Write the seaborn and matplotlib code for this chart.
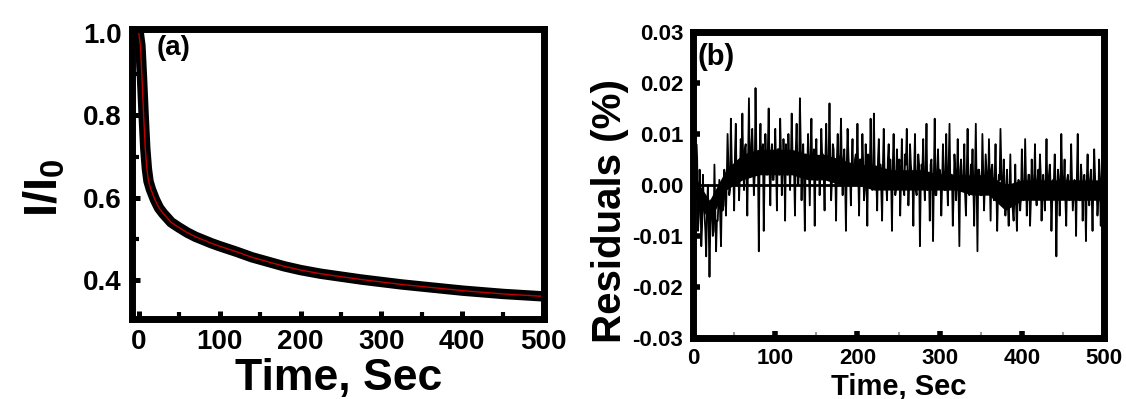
import matplotlib
matplotlib.use("Agg")
import matplotlib.pyplot as plt
import matplotlib.ticker as mticker
import numpy as np
import pandas as pd
import seaborn as sns

# (a) normalised intensity decay
decay_time = [0, 2, 4, 6, 8, 10, 12, 15, 20, 25, 30, 40, 50, 60, 70, 80, 90, 100,
              120, 140, 160, 180, 200, 225, 250, 275, 300, 325, 350, 375, 400,
              425, 450, 475, 500]
decay_ratio = [1.0, 0.97, 0.89, 0.80, 0.72, 0.67, 0.64, 0.62, 0.595, 0.575, 0.562,
               0.540, 0.527, 0.515, 0.505, 0.497, 0.489, 0.482, 0.469, 0.455, 0.444,
               0.433, 0.424, 0.415, 0.408, 0.401, 0.395, 0.389, 0.384, 0.379, 0.374,
               0.370, 0.366, 0.363, 0.360]

# (b) residuals in units of 0.001: spikes at even seconds 0..500
resid_even = [
    17, -4, 8, -9, 3, -12, 2, -6, -14, 0,
    -18, -3, -10, 4, -13, -7, 1, -12, -5, 3,
    -6, 10, -2, 13, 1, -5, 12, 4, -3, 9,
    14, -1, 8, -6, 17, 3, 11, -2, 19, 5,
    -13, 12, 6, -9, 10, 2, 15, -4, 8, 1,
    11, -5, 7, 13, -2, 9, -7, 4, 10, -1,
    14, 3, -6, 12, 0, 17, -3, 8, -9, 5,
    10, -4, 13, 2, -8, 9, 4, -2, 11, 6,
    -5, 12, 3, 16, -3, 8, 1, -7, 10, 4,
    13, -2, 7, -9, 11, 2, -4, 9, 0, 6,
    12, -6, 5, 10, -3, 8, -8, 3, 13, -1,
    14, 2, -5, 9, 4, -7, 11, 1, -3, 8,
    5, -9, 10, -2, 7, 3, -6, 9, -1, 6,
    11, -4, 8, 2, -8, 10, -2, 6, -12, 4,
    9, -3, 12, 1, -7, 5, -11, 13, -2, 7,
    3, -6, 8, -1, 10, -4, 12, 2, -8, 6,
    -3, 9, -12, 5, 1, 8, -6, 11, -2, 4,
    7, -8, 12, -13, 3, -2, 10, -5, 6, 0,
    9, -7, 4, -3, 8, -9, 2, 11, -4, 5,
    -6, 3, -8, 6, -2, -7, 4, -9, 1, -5,
    7, -3, 9, -6, 2, -8, 5, -1, 8, -4,
    3, 6, -7, 2, -5, 9, -2, 4, -9, 1,
    6, -14, 3, -6, 10, -1, 5, -8, 2, -3,
    8, -5, 1, -10, 10, -3, 4, -7, 2, -11,
    6, -4, 3, -9, 7, -2, -6, 5, -8, 8,
    -10,
]
# values at odd seconds 1..499
resid_odd = [
    2, -3, 5, -6, -2, -8, -4, -9, -5, -7,
    -8, -4, -9, -5, -7, -3, -6, -2, -4, 0,
    1, 4, -1, 5, 2, 6, 0, 4, 2, 5,
    4, 7, 2, 6, 3, 8, 5, 2, 7, 4,
    6, 3, 8, 2, 5, 7, 3, 6, 1, 5,
    4, 7, 2, 6, 3, 5, 8, 2, 5, 4,
    6, 2, 7, 4, 3, 8, 5, 1, 6, 4,
    3, 6, 2, 7, 4, 1, 5, 3, 6, 2,
    5, 2, 6, 4, 1, 7, 3, 5, 2, 6,
    3, 5, 1, 4, 6, 2, 4, 0, 5, 3,
    2, 5, 1, 4, -1, 3, 6, 2, 4, 0,
    3, 1, 5, 2, -1, 4, 2, 0, 5, 2,
    1, 4, 2, -1, 3, 5, 1, 3, -2, 4,
    2, 0, 4, 1, 3, -1, 2, 4, 0, 3,
    1, 3, -1, 2, 4, 0, 2, -2, 3, 1,
    2, 0, 3, -1, 1, 4, 0, 2, -2, 3,
    1, -1, 3, 0, 2, -2, 3, 1, -1, 2,
    0, 2, -1, 3, 1, -2, 2, 0, 3, -1,
    1, 3, -1, 2, 0, -2, 1, 3, -1, 0,
    -2, -4, -1, -3, -5, -2, -4, -1, -3, -2,
    0, -2, 1, -1, 2, -3, 0, 1, -2, 1,
    -1, 2, 0, -2, 1, -1, 2, 0, -3, 1,
    0, -2, 1, -1, 2, 0, -3, 1, -1, 0,
    1, -2, 0, 2, -1, -3, 1, 0, -2, 1,
    -1, 1, -2, 0, 2, -1, -3, 1, 0, -2,
]
# solid core of the residual band (units of 0.001), every 20 s
core_time = [0, 20, 40, 60, 80, 100, 120, 140, 160, 180, 200, 220, 240,
             260, 280, 300, 320, 340, 360, 380, 400, 420, 440, 460, 480, 500]
core_lo = [-2, -7, -1, 1, 2, 2, 2, 1, 1, 0, 0, -1, -1,
           -1, -1, -1, -1, -2, -2, -5, -3, -3, -3, -3, -3, -3]
core_hi = [2, -3, 3, 6, 7, 7, 7, 6, 6, 5, 4, 4, 3,
           3, 3, 2, 2, 2, 2, 0, 1, 1, 1, 1, 1, 1]

decay_df = pd.DataFrame({"time": decay_time, "ratio": decay_ratio})
resid_df = pd.concat([
    pd.DataFrame({"time": np.arange(0, 501, 2), "resid": resid_even}),
    pd.DataFrame({"time": np.arange(1, 500, 2), "resid": resid_odd}),
]).sort_values("time")
resid_df["resid"] = resid_df["resid"] / 1000.0
core_df = pd.DataFrame({"time": core_time,
                        "lo": np.array(core_lo) / 1000.0,
                        "hi": np.array(core_hi) / 1000.0})

sns.set_theme(style="ticks")
plt.rcParams["font.family"] = ["Liberation Sans", "DejaVu Sans"]
plt.rcParams["font.weight"] = "bold"
plt.rcParams["axes.labelweight"] = "bold"
plt.rcParams["axes.unicode_minus"] = False
plt.rcParams["mathtext.fontset"] = "custom"
plt.rcParams["mathtext.rm"] = "Liberation Sans:bold"
plt.rcParams["mathtext.it"] = "Liberation Sans:bold"
plt.rcParams["mathtext.bf"] = "Liberation Sans:bold"
for key in ["text.color", "axes.labelcolor", "xtick.color", "ytick.color"]:
    plt.rcParams[key] = "black"

fig = plt.figure(figsize=(11.26, 3.99), dpi=100)
ax1 = fig.add_axes([0.1168, 0.2005, 0.3663, 0.7268])
ax2 = fig.add_axes([0.6155, 0.1529, 0.365, 0.767])

# panel (a): thick black data band with the red fit on top
sns.lineplot(data=decay_df, x="time", y="ratio", ax=ax1, color="black", lw=7.5)
sns.lineplot(data=decay_df, x="time", y="ratio", ax=ax1, color="#c00000", lw=1.0)
ax1.set_xlim(-9, 501)
ax1.set_ylim(0.305, 1.01)
ax1.xaxis.set_major_locator(mticker.MultipleLocator(100))
ax1.xaxis.set_minor_locator(mticker.MultipleLocator(50))
ax1.yaxis.set_major_locator(mticker.MultipleLocator(0.2))
ax1.yaxis.set_minor_locator(mticker.MultipleLocator(0.1))
ax1.yaxis.set_major_formatter(mticker.FormatStrFormatter("%.1f"))
ax1.tick_params(which="major", direction="in", length=6, width=3.6, pad=7, labelsize=20)
ax1.tick_params(which="minor", direction="in", length=5, width=3.0)
ax1.set_xlabel("Time, Sec", fontsize=32, fontweight="bold")
ax1.set_ylabel("I/I$_0$", fontsize=34, fontweight="bold")
ax1.xaxis.set_label_coords(0.502, -0.135)
ax1.yaxis.set_label_coords(-0.156, 0.452)
ax1.text(0.062, 0.979, "(a)", transform=ax1.transAxes, va="top", ha="left",
         fontsize=20, fontweight="bold")

# panel (b): residuals, dense core band, zero line
ax2.fill_between(core_df["time"], core_df["lo"], core_df["hi"], color="black", lw=0)
ax2.axhline(0, color="black", lw=2.0, zorder=1)
sns.lineplot(data=resid_df, x="time", y="resid", ax=ax2, color="black", lw=1.3)
ax2.set_xlim(0, 500)
ax2.set_ylim(-0.03, 0.03)
ax2.xaxis.set_major_locator(mticker.MultipleLocator(100))
ax2.xaxis.set_minor_locator(mticker.MultipleLocator(50))
ax2.yaxis.set_major_locator(mticker.MultipleLocator(0.01))
ax2.yaxis.set_major_formatter(mticker.FormatStrFormatter("%.2f"))
ax2.tick_params(which="major", direction="in", length=5, width=4, pad=7, labelsize=16)
ax2.tick_params(which="minor", direction="in", length=4, width=1.5, color="#999999")
ax2.set_xlabel("Time, Sec", fontsize=21, fontweight="bold")
ax2.set_ylabel("Residuals (%)", fontsize=29, fontweight="bold")
ax2.xaxis.set_label_coords(0.5, -0.112)
ax2.yaxis.set_label_coords(-0.156, 0.415)
ax2.text(0.012, 0.964, "(b)", transform=ax2.transAxes, va="top", ha="left",
         fontsize=21, fontweight="bold")

for ax in (ax1, ax2):
    for sp in ax.spines.values():
        sp.set_linewidth(5)
        sp.set_color("black")
        sp.set_visible(True)
    for lab in ax.get_xticklabels() + ax.get_yticklabels():
        lab.set_fontweight("bold")

fig.savefig("out.png", dpi=100)
